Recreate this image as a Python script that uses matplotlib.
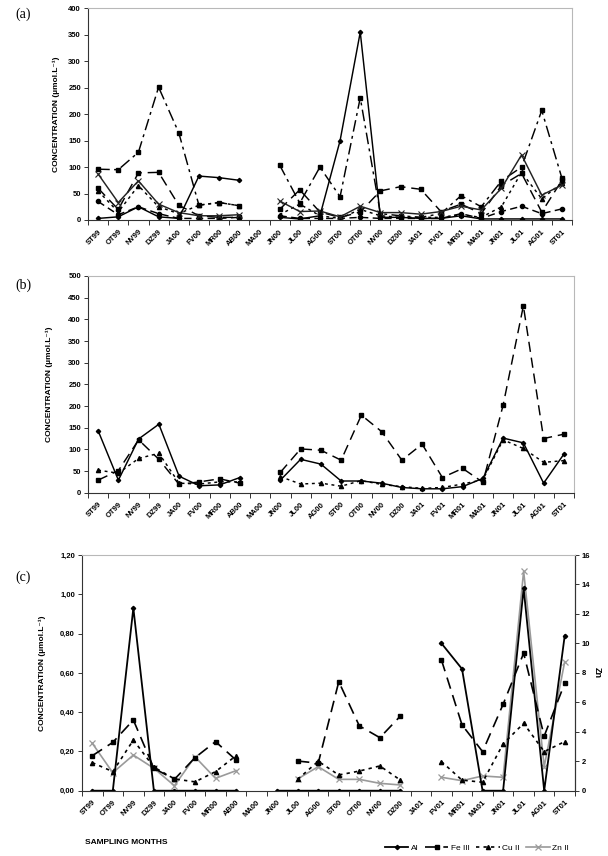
import numpy as np
import matplotlib
matplotlib.use('Agg')
import matplotlib.pyplot as plt
from matplotlib.ticker import FuncFormatter, MultipleLocator

plt.rcParams['font.family'] = ['Liberation Sans', 'DejaVu Sans']

nan = np.nan
months = ["ST99", "OT99", "NV99", "DZ99", "JA00", "FV00", "MR00", "AB00", "MA00",
          "JN00", "JL00", "AG00", "ST00", "OT00", "NV00", "DZ00", "JA01", "FV01",
          "MR01", "MA01", "JN01", "JL01", "AG01", "ST01"]

# ---- panel (a) ----
a_solid_diamond = [3, 6, 25, 6, 3, 83, 80, 75, nan, 5, 2, 8, 150, 355, 5, 5, 3, 3, 8, 2, 2, 2, 2, 2]
a_dashdot_square = [96, 95, 128, 251, 165, 28, 33, 27, nan, 104, 32, 100, 44, 231, 12, 8, 5, 12, 46, 25, 74, 100, 207, 79]
a_dash_square = [60, 20, 89, 90, 28, 8, 5, 5, nan, 20, 57, 15, 5, 15, 55, 63, 58, 16, 30, 12, 65, 88, 15, 75]
a_solid_x = [87, 33, 74, 30, 14, 8, 8, 10, nan, 36, 16, 17, 6, 26, 14, 14, 11, 16, 26, 19, 60, 123, 47, 66]
a_dot_tri = [55, 15, 65, 25, 12, 28, 33, 27, nan, 10, 30, 8, 3, 20, 8, 5, 5, 5, 10, 5, 25, 90, 40, 70]
a_dash_circle = [35, 10, 25, 12, 3, 3, 3, 5, nan, 8, 3, 3, 3, 5, 3, 3, 3, 3, 12, 3, 16, 26, 12, 21]

# ---- panel (b) ----
b_al = [143, 29, 124, 158, 38, 16, 18, 35, nan, 29, 77, 66, 27, 27, 22, 12, 9, 9, 14, 33, 126, 115, 22, 89]
b_fe = [29, 51, 122, 77, 19, 25, 32, 22, nan, 47, 101, 98, 75, 179, 141, 75, 112, 35, 56, 24, 202, 431, 125, 135]
b_cu = [52, 45, 79, 91, 22, 20, 25, 25, nan, 37, 20, 22, 15, 28, 19, 14, 10, 12, 20, 30, 122, 102, 70, 74]

# ---- panel (c) ----
c_al = [0, 0, 0.93, 0, 0, 0, 0, 0, nan, 0, 0, 0, 0, 0, 0, 0, nan, 0.75, 0.62, 0, 0, 1.03, 0, 0.79]
c_fe = [0.178, 0.246, 0.36, 0.114, 0.058, 0.168, 0.25, 0.156, nan, nan, 0.151, 0.14, 0.555, 0.33, 0.27, 0.38,
        nan, 0.665, 0.335, 0.199, 0.44, 0.70, 0.278, 0.547]
c_cu = [0.143, 0.097, 0.258, 0.12, 0.06, 0.045, 0.097, 0.178, nan, nan, 0.058, 0.15, 0.08, 0.10, 0.126, 0.054,
        nan, 0.148, 0.054, 0.043, 0.238, 0.343, 0.199, 0.25]
c_zn = [3.22, 1.22, 2.42, 1.52, 0.34, 2.3, 0.84, 1.36, nan, nan, 0.8, 1.63, 0.77, 0.77, 0.5, 0.39,
        nan, 0.91, 0.68, 1.0, 0.91, 14.9, 1.63, 8.76]

W, H = 608, 856
fig = plt.figure(figsize=(W / 100, H / 100), dpi=100)

def px_axes(l, r, t, b):
    return fig.add_axes([l / W, 1 - b / H, (r - l) / W, (b - t) / H])

x = np.arange(len(months))
DARK = '#333333'
LIGHT = '#b8b8b8'
TICKFS = 5.5

def style(ax, ymax, ystep, fmt=None, right_dark=False):
    ax.set_xlim(-0.5, len(months) - 0.5)
    ax.set_ylim(0, ymax)
    ax.yaxis.set_major_locator(MultipleLocator(ystep))
    if fmt:
        ax.yaxis.set_major_formatter(FuncFormatter(fmt))
    ax.set_xticks(x)
    ax.set_xticklabels(months, rotation=45, ha='right', rotation_mode='anchor',
                       fontsize=TICKFS, fontweight='bold')
    ax.set_xticks(np.arange(-0.5, len(months)), minor=True)
    ax.tick_params(axis='x', which='major', length=0, pad=6)
    ax.tick_params(axis='x', which='minor', length=3.5, width=0.7, color=DARK, direction='out')
    ax.tick_params(axis='y', length=3, width=0.7, color=DARK, direction='out',
                   labelsize=TICKFS, pad=2)
    for lab in ax.get_yticklabels():
        lab.set_fontweight('bold')
    ax.spines['left'].set_color(DARK)
    ax.spines['bottom'].set_color(DARK)
    ax.spines['top'].set_color(LIGHT)
    ax.spines['right'].set_color(DARK if right_dark else LIGHT)
    for s in ax.spines.values():
        s.set_linewidth(0.8)

ylabel = "CONCENTRATION (µmol.L⁻¹)"
LW = 1.05

# ---------- (a) ----------
ax1 = px_axes(88, 572, 8.3, 220)
ax1.plot(x, a_dashdot_square, color='black', lw=LW, ls=(0, (8, 3, 2, 3)), marker='s', ms=3.3)
ax1.plot(x, a_dash_square, color='black', lw=LW, ls=(0, (7, 4)), marker='s', ms=3.3)
ax1.plot(x, a_dot_tri, color='black', lw=LW, ls=(0, (2, 2.5)), marker='^', ms=3)
ax1.plot(x, a_dash_circle, color='black', lw=LW, ls=(0, (5, 3)), marker='o', ms=3)
ax1.plot(x, a_solid_x, color='#222222', lw=LW, ls='-', marker='x', ms=4, mew=0.8)
ax1.plot(x, a_solid_diamond, color='black', lw=LW, ls='-', marker='D', ms=2.2)
style(ax1, 400, 50)
ax1.set_ylabel(ylabel, fontsize=6, fontweight='bold')
ax1.yaxis.set_label_coords(-0.058, 0.5)

# ---------- (b) ----------
ax2 = px_axes(88, 574, 276, 492.7)
ax2.plot(x, b_fe, color='black', lw=LW, ls=(0, (7, 4)), marker='s', ms=3.3)
ax2.plot(x, b_cu, color='black', lw=LW, ls=(0, (2, 2.5)), marker='^', ms=3)
ax2.plot(x, b_al, color='black', lw=LW, ls='-', marker='D', ms=2.2)
style(ax2, 500, 50)
ax2.set_ylabel(ylabel, fontsize=6, fontweight='bold')
ax2.yaxis.set_label_coords(-0.072, 0.5)

# ---------- (c) ----------
ax3 = px_axes(82, 575, 555, 790.7)
ax3b = ax3.twinx()
l_zn, = ax3b.plot(x, c_zn, color='#9a9a9a', lw=1.2, ls='-', marker='x', ms=5, mew=0.9, label='Zn II')
l_fe, = ax3.plot(x, c_fe, color='black', lw=1.2, ls=(0, (7, 4)), marker='s', ms=3.3, label='Fe III')
l_cu, = ax3.plot(x, c_cu, color='black', lw=1.2, ls=(0, (2, 2.5)), marker='^', ms=3, label='Cu II')
l_al, = ax3.plot(x, c_al, color='black', lw=1.3, ls='-', marker='D', ms=2.2, label='Al')
ax3.set_zorder(ax3b.get_zorder() + 1)
ax3.patch.set_visible(False)
style(ax3, 1.2, 0.2, fmt=lambda v, p: f"{v:.2f}".replace('.', ','), right_dark=True)
ax3b.set_ylim(0, 16)
ax3b.yaxis.set_major_locator(MultipleLocator(2))
ax3b.tick_params(axis='y', length=3, width=0.7, color=DARK, direction='out', labelsize=TICKFS, pad=2)
for lab in ax3b.get_yticklabels():
    lab.set_fontweight('bold')
for s in ax3b.spines.values():
    s.set_visible(False)
ax3b.spines['right'].set_visible(True)
ax3b.spines['right'].set_color(DARK)
ax3b.spines['right'].set_linewidth(0.8)
ax3.set_ylabel(ylabel, fontsize=6, fontweight='bold')
ax3.yaxis.set_label_coords(-0.074, 0.5)
ax3b.set_ylabel("Zn", fontsize=6.5, fontweight='bold', rotation=270)
ax3b.yaxis.set_label_coords(1.054, 0.5)

fig.text(85 / W, 1 - 843 / H, "SAMPLING MONTHS", fontsize=6, fontweight='bold', va='center', ha='left')

fig.legend([l_al, l_fe, l_cu, l_zn], ['Al', 'Fe III', 'Cu II', 'Zn II'],
           loc='center', bbox_to_anchor=(477 / W, 1 - 848 / H), ncol=4, frameon=False,
           fontsize=6, handlelength=2.8, columnspacing=0.8, handletextpad=0.3)

for lbl, yy in [("(a)", 14), ("(b)", 285), ("(c)", 577)]:
    fig.text(15 / W, 1 - yy / H, lbl, fontsize=10, family=['Liberation Serif', 'DejaVu Serif'],
             va='center', ha='left')

fig.savefig('out.png', dpi=100)
